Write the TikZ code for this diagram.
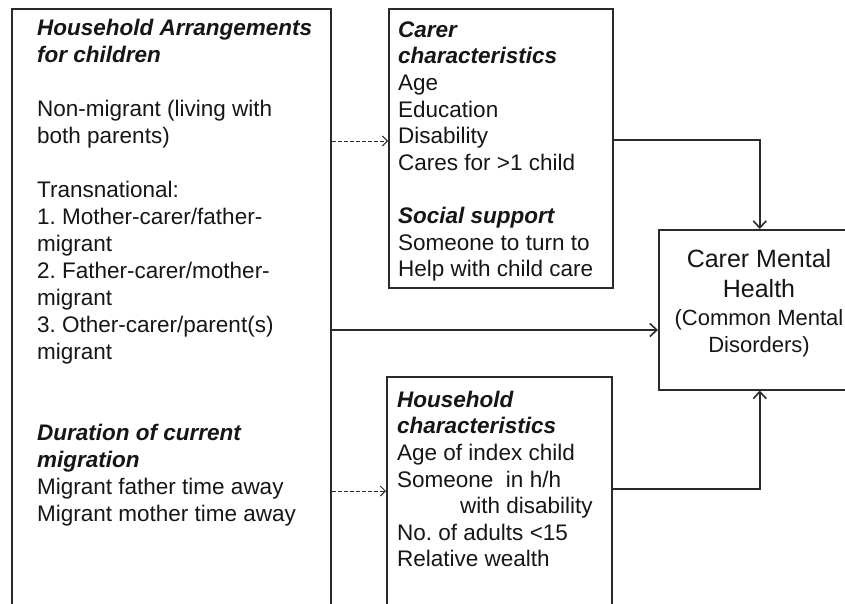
\documentclass[tikz,border=0pt]{standalone}
\usepackage{fontspec}
\setmainfont{Liberation Sans}
\usetikzlibrary{arrows.meta}
\definecolor{ink}{HTML}{161616}
\definecolor{edge}{HTML}{2A2A2A}
\tikzset{
  box/.style={draw=edge, line width=1.5pt, rectangle, anchor=north west, inner sep=0pt},
  txt/.style={anchor=north west, inner sep=0pt, align=left, text=ink,
              font=\fontsize{22.5}{27}\selectfont},
  txtb/.style={txt, font=\fontsize{22.5}{26.6}\selectfont},
  dasharrow/.style={draw=edge, line width=1pt, dash pattern=on 4pt off 2pt,
              -{Straight Barb[length=5pt,width=10pt,line width=1pt]}},
  solidarrow/.style={draw=edge, line width=2pt,
              -{Straight Barb[length=7pt,width=13pt,line width=1.6pt]}}
}
\newcommand{\hdg}[1]{\textbf{\textit{#1}}}
\frenchspacing
\begin{document}
\begin{tikzpicture}[x=1pt,y=-1pt]
\useasboundingbox (0,0) rectangle (845,603);
\clip (0,0) rectangle (845,603);
\fill[white] (0,0) rectangle (845,603);

% boxes
\node[box, minimum width=319pt, minimum height=640pt] (lbox) at (11,8) {};
\node[box, minimum width=224pt, minimum height=279pt] (cbox) at (388,8) {};
\node[box, minimum width=225pt, minimum height=260pt] (hbox) at (386,376) {};
\node[box, minimum width=202pt, minimum height=160pt] (mbox) at (658,229) {};

% texts
\node[txt] (ltext) at (37,15) {\rule{0pt}{20pt}\hdg{Household Arrangements}\\
\hdg{for children}\\[27pt]
Non-migrant (living with\\
both parents)\\[27pt]
Transnational:\\
1. Mother-carer/father-\\
migrant\\
2. Father-carer/mother-\\
migrant\\
3. Other-carer/parent(s)\\
migrant\\[54pt]
\hdg{Duration of current}\\
\hdg{migration}\\
Migrant father time away\\
Migrant mother time away};

\node[txtb] (ctext) at (398,17) {\rule{0pt}{20pt}\hdg{Carer}\\
\hdg{characteristics}\\
Age\\
Education\\
Disability\\
Cares for >1 child\\[26.6pt]
\hdg{Social support}\\
Someone to turn to\\
Help with child care};

\node[txtb] (htext) at (397,387) {\rule{0pt}{20pt}\hdg{Household}\\
\hdg{characteristics}\\
Age of index child\\
Someone\ \ in h/h\\
\hspace*{63pt}with disability\\
No. of adults <15\\
Relative wealth};

\node[anchor=north, inner sep=0pt, align=center, text=ink,
      font=\fontsize{25}{30}\selectfont] (mtitle) at (759,247)
      {\rule{0pt}{20pt}Carer Mental\\Health};
\node[anchor=north, inner sep=0pt, align=center, text=ink,
      font=\fontsize{22}{27}\selectfont] (msub) at (759,307)
      {\rule{0pt}{18pt}(Common Mental\\Disorders)};

% connector levels
\coordinate (y1) at (0,141);
\coordinate (y2) at (0,140);
\coordinate (y3) at (0,330);
\coordinate (y4) at (0,491);
\coordinate (y5) at (0,489);

\draw[dasharrow] (lbox.east |- y1) -- (cbox.west |- y1);
\draw[solidarrow] (cbox.east |- y2) -| (mbox.north);
\draw[solidarrow] (lbox.east |- y3) -- (mbox.west |- y3);
\draw[dasharrow] (lbox.east |- y4) -- (hbox.west |- y4);
\draw[solidarrow] (hbox.east |- y5) -| (mbox.south);
\end{tikzpicture}
\end{document}
